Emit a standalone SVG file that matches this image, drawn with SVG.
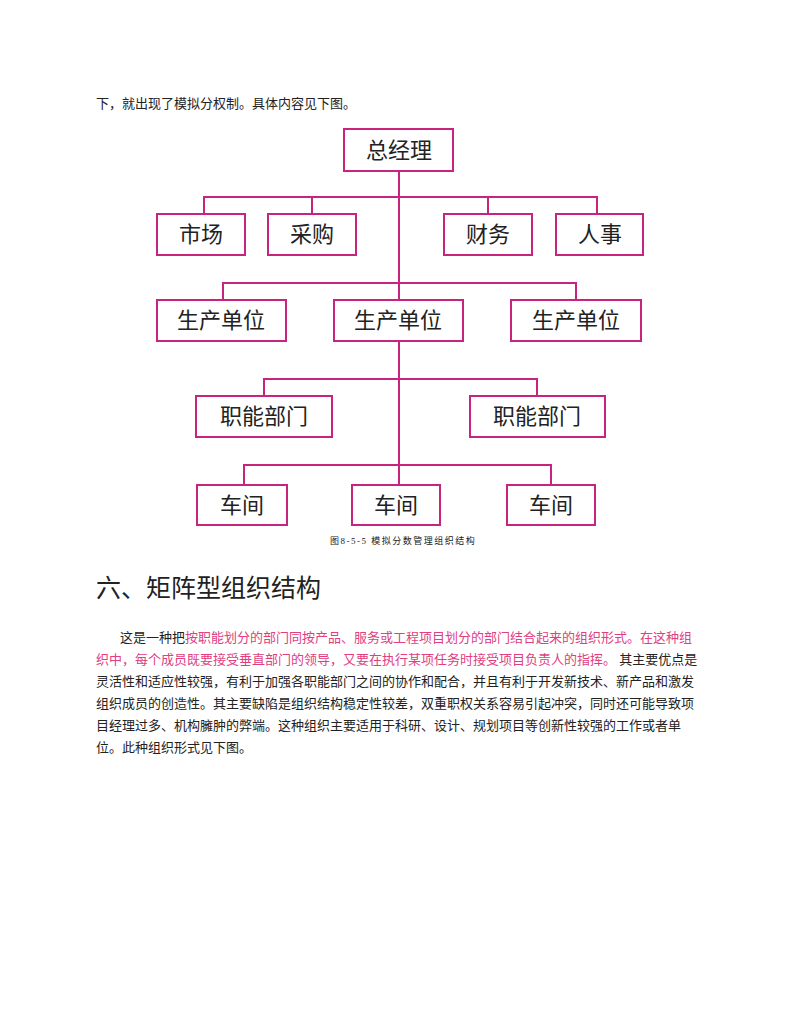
<svg xmlns="http://www.w3.org/2000/svg" width="800" height="1035" viewBox="0 0 800 1035">
<style>
.b{fill:#fff;stroke:#c8247f;stroke-width:2}
.l{fill:none;stroke:#c8247f;stroke-width:2}
.n{font-family:"Liberation Serif","Noto Sans CJK SC",serif;font-size:22px;fill:#222;text-anchor:middle}
.t{font-family:"Liberation Serif","Noto Sans CJK SC",serif;font-size:13px;fill:#222}
.p{fill:#e0407f}
</style>
<rect width="800" height="1035" fill="#fff"/>
<text class="t" x="96" y="108">下，就出现了模拟分权制。具体内容见下图。</text>
<g id="connectors" class="l">
<path d="M399 171V485M204 214V197H597V214M312 197V214M488 197V214M223 300V283H576V300M264 396V379H537V396M244 485V465H551V485"/>
</g>
<g id="n1"><rect class="b" x="344" y="129" width="109" height="42"/><text class="n" x="399" y="158">总经理</text></g>
<g id="n2"><rect class="b" x="157" y="214" width="88" height="41"/><text class="n" x="201" y="242">市场</text></g>
<g id="n3"><rect class="b" x="268" y="214" width="88" height="41"/><text class="n" x="312" y="242">采购</text></g>
<g id="n4"><rect class="b" x="444" y="214" width="88" height="41"/><text class="n" x="488" y="242">财务</text></g>
<g id="n5"><rect class="b" x="556" y="214" width="87" height="41"/><text class="n" x="600" y="242">人事</text></g>
<g id="n6"><rect class="b" x="157" y="300" width="129" height="41"/><text class="n" x="221" y="328">生产单位</text></g>
<g id="n7"><rect class="b" x="334" y="300" width="129" height="41"/><text class="n" x="398" y="328">生产单位</text></g>
<g id="n8"><rect class="b" x="511" y="300" width="130" height="41"/><text class="n" x="576" y="328">生产单位</text></g>
<g id="n9"><rect class="b" x="196" y="396" width="136" height="41"/><text class="n" x="264" y="424">职能部门</text></g>
<g id="n10"><rect class="b" x="470" y="396" width="135" height="41"/><text class="n" x="537" y="424">职能部门</text></g>
<g id="n11"><rect class="b" x="197" y="485" width="90" height="40"/><text class="n" x="242" y="513">车间</text></g>
<g id="n12"><rect class="b" x="352" y="485" width="88" height="40"/><text class="n" x="396" y="513">车间</text></g>
<g id="n13"><rect class="b" x="507" y="485" width="88" height="40"/><text class="n" x="551" y="513">车间</text></g>
<text class="t" x="330" y="544" style="font-size:9px;letter-spacing:1.5px">图8-5-5  模拟分数管理组织结构</text>
<text x="96" y="597" style="font-family:'Noto Sans CJK SC',sans-serif;font-size:25px;fill:#222">六、矩阵型组织结构</text>
<text class="t" x="120" y="642">这是一种把<tspan class="p">按职能划分的部门同按产品、服务或工程项目划分的部门结合起来的组织形式。在这种组</tspan></text>
<text class="t" x="96" y="664"><tspan class="p">织中，每个成员既要接受垂直部门的领导，又要在执行某项任务时接受项目负责人的指挥。</tspan>   其主要优点是</text>
<text class="t" x="96" y="686">灵活性和适应性较强，有利于加强各职能部门之间的协作和配合，并且有利于开发新技术、新产品和激发</text>
<text class="t" x="96" y="708">组织成员的创造性。其主要缺陷是组织结构稳定性较差，双重职权关系容易引起冲突，同时还可能导致项</text>
<text class="t" x="96" y="730">目经理过多、机构臃肿的弊端。这种组织主要适用于科研、设计、规划项目等创新性较强的工作或者单</text>
<text class="t" x="96" y="752">位。此种组织形式见下图。</text>
</svg>
